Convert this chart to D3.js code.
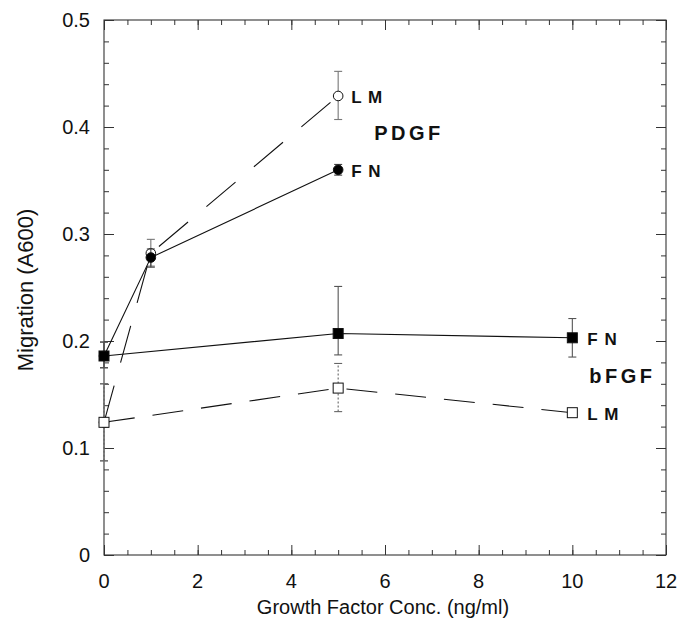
<!DOCTYPE html>
<html>
<head>
<meta charset="utf-8">
<script src="https://cdn.jsdelivr.net/npm/d3@7"></script>
<style>
  body { margin: 0; background: #fff; }
  svg { display: block; font-family: "Liberation Sans", Arial, sans-serif; }
</style>
</head>
<body>
<svg id="chart" width="679" height="618"></svg>
<script>
// concentrations (ng/ml)
const pdgfX = [0, 1, 5];
const bfgfX = [0, 5, 10];

// migration values (A600) and error bar ends
const pdgfLM = [0.124, 0.282, 0.429];
const pdgfLMLow = [0.088, 0.270, 0.407];
const pdgfLMHigh = [0.160, 0.295, 0.452];

const pdgfFN = [0.186, 0.278, 0.360];
const pdgfFNLow = [0.175, 0.269, 0.355];
const pdgfFNHigh = [0.199, 0.286, 0.365];

const bfgfFN = [0.186, 0.207, 0.203];
const bfgfFNLow = [0.175, 0.187, 0.185];
const bfgfFNHigh = [0.199, 0.251, 0.221];

const bfgfLM = [0.124, 0.156, 0.133];
const bfgfLMLow = [0.088, 0.134, 0.130];
const bfgfLMHigh = [0.160, 0.179, 0.136];

const xTicks = [0, 2, 4, 6, 8, 10, 12];
const yTicks = [0, 0.1, 0.2, 0.3, 0.4, 0.5];

const svg = d3.select('#chart');
const mLeft = 104, mRight = 666, mTop = 20, mBottom = 555;

const x = d3.scaleLinear().domain([0, 12]).range([mLeft, mRight]);
const y = d3.scaleLinear().domain([0, 0.5]).range([mBottom, mTop]);

const minorX = d3.range(0, 12.01, 0.5);
const minorY = d3.range(0, 0.501, 0.02);

// frame
svg.append('rect')
    .attr('x', mLeft).attr('y', mTop)
    .attr('width', mRight - mLeft).attr('height', mBottom - mTop)
    .attr('fill', 'none').attr('stroke', '#333').attr('stroke-width', 1.1);

// bottom axis (ticks inward)
const gx = svg.append('g').attr('transform', `translate(0,${mBottom})`)
    .call(d3.axisTop(x).tickValues(minorX).tickSize(5).tickFormat(''));
gx.append('g').call(d3.axisTop(x).tickValues(xTicks).tickSize(10).tickFormat(''));
gx.selectAll('.domain').remove();

svg.append('g').selectAll('text')
    .data(xTicks).enter().append('text')
    .attr('x', d => x(d)).attr('y', mBottom + 33)
    .attr('text-anchor', 'middle')
    .attr('font-size', 20).attr('fill', '#111')
    .text(d => d);

// top axis
const gt = svg.append('g').attr('transform', `translate(0,${mTop})`)
    .call(d3.axisBottom(x).tickValues(minorX).tickSize(5).tickFormat(''));
gt.append('g').call(d3.axisBottom(x).tickValues(xTicks).tickSize(10).tickFormat(''));
gt.selectAll('.domain').remove();

// left axis
const gy = svg.append('g').attr('transform', `translate(${mLeft},0)`)
    .call(d3.axisRight(y).tickValues(minorY).tickSize(5).tickFormat(''));
gy.append('g').call(d3.axisRight(y).tickValues(yTicks).tickSize(10).tickFormat(''));
gy.selectAll('.domain').remove();

svg.append('g').selectAll('text')
    .data(yTicks).enter().append('text')
    .attr('x', mLeft - 14).attr('y', d => y(d) + 7)
    .attr('text-anchor', 'end')
    .attr('font-size', 20).attr('fill', '#111')
    .text(d => d === 0 ? '0' : d3.format('.1f')(d));

// right axis
const gr = svg.append('g').attr('transform', `translate(${mRight},0)`)
    .call(d3.axisLeft(y).tickValues(minorY).tickSize(5).tickFormat(''));
gr.append('g').call(d3.axisLeft(y).tickValues(yTicks).tickSize(10).tickFormat(''));
gr.selectAll('.domain').remove();

svg.selectAll('.tick line').attr('stroke', '#333');

// axis titles
svg.append('text')
    .attr('x', 383).attr('y', 614)
    .attr('text-anchor', 'middle').attr('font-size', 20).attr('fill', '#111')
    .text('Growth Factor Conc. (ng/ml)');
svg.append('text')
    .attr('transform', `translate(33,290) rotate(-90)`)
    .attr('text-anchor', 'middle').attr('font-size', 22).attr('fill', '#111')
    .text('Migration (A600)');

const line = d3.line().x(d => x(d[0])).y(d => y(d[1]));

const series = [
  { xs: pdgfX, ys: pdgfLM, lo: pdgfLMLow, hi: pdgfLMHigh, dash: '38,24', shape: 'circle', fill: '#fff', err: '#777' },
  { xs: pdgfX, ys: pdgfFN, lo: pdgfFNLow, hi: pdgfFNHigh, dash: null, shape: 'circle', fill: '#000', err: '#444' },
  { xs: bfgfX, ys: bfgfFN, lo: bfgfFNLow, hi: bfgfFNHigh, dash: null, shape: 'square', fill: '#000', err: '#555' },
  { xs: bfgfX, ys: bfgfLM, lo: bfgfLMLow, hi: bfgfLMHigh, dash: '31,18', shape: 'square', fill: '#fff', err: '#666', errDash: '2,2' }
];

series.forEach(s => {
  const pts = s.xs.map((v, i) => [v, s.ys[i]]);
  const g = svg.append('g');

  // error bars
  s.xs.forEach((v, i) => {
    const eb = g.append('g').attr('stroke', s.err).attr('stroke-width', 1.1);
    eb.append('line')
        .attr('x1', x(v)).attr('x2', x(v))
        .attr('y1', y(s.lo[i])).attr('y2', y(s.hi[i]))
        .attr('stroke-dasharray', s.errDash || null);
    [s.lo[i], s.hi[i]].forEach(e => {
      eb.append('line')
          .attr('x1', x(v) - 4).attr('x2', x(v) + 4)
          .attr('y1', y(e)).attr('y2', y(e));
    });
  });

  g.append('path')
      .attr('d', line(pts))
      .attr('fill', 'none').attr('stroke', '#111').attr('stroke-width', 1.1)
      .attr('stroke-dasharray', s.dash);

  if (s.shape === 'circle') {
    g.selectAll('circle').data(pts).enter().append('circle')
        .attr('cx', d => x(d[0])).attr('cy', d => y(d[1])).attr('r', 4.8)
        .attr('fill', s.fill).attr('stroke', '#111').attr('stroke-width', 1);
  } else {
    g.selectAll('rect').data(pts).enter().append('rect')
        .attr('x', d => x(d[0]) - 5).attr('y', d => y(d[1]) - 5)
        .attr('width', 10).attr('height', 10)
        .attr('fill', s.fill).attr('stroke', '#111').attr('stroke-width', 1);
  }
});

// series labels
const labels = [
  { t: 'L M', x: 5, v: pdgfLM[2], dx: 13 },
  { t: 'F N', x: 5, v: pdgfFN[2], dx: 13 },
  { t: 'PDGF', x: 5, v: (pdgfLM[2] + pdgfFN[2]) / 2, dx: 36 },
  { t: 'F N', x: 10, v: bfgfFN[2], dx: 15 },
  { t: 'L M', x: 10, v: bfgfLM[2], dx: 15 },
  { t: 'bFGF', x: 10, v: 0.167, dx: 17 }
];
svg.append('g').selectAll('text').data(labels).enter().append('text')
    .attr('x', d => x(d.x) + d.dx).attr('y', d => y(d.v) + 7)
    .attr('font-size', d => d.t.length > 3 ? 20 : 17)
    .attr('font-weight', 'bold')
    .attr('letter-spacing', d => d.t.length > 3 ? 3.5 : 1)
    .attr('fill', '#111')
    .text(d => d.t);
</script>
</body>
</html>
